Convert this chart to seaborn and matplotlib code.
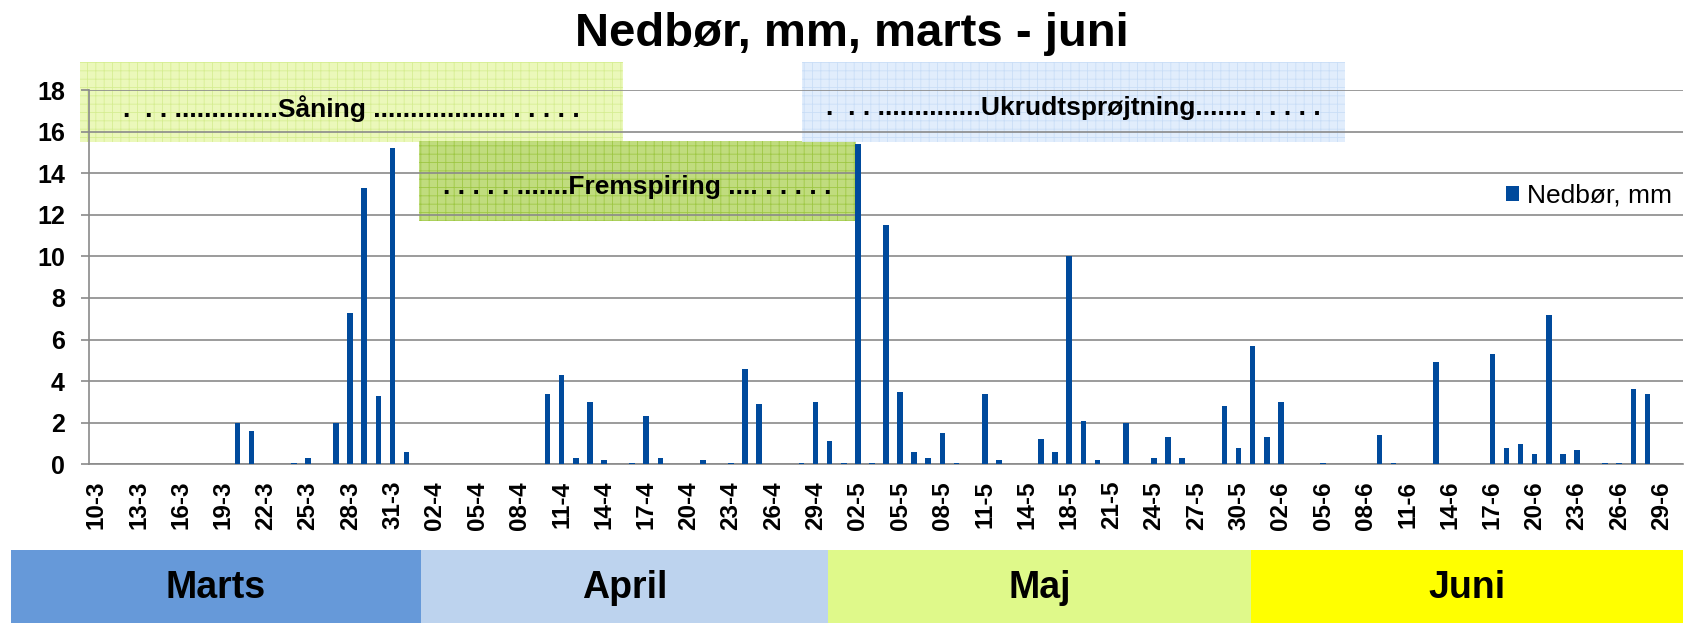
import matplotlib
matplotlib.use("Agg")
import matplotlib.pyplot as plt
import seaborn as sns
import pandas as pd
from matplotlib.patches import Rectangle
from matplotlib.ticker import FixedLocator

sns.set_theme(style="white")
plt.rcParams["font.family"] = ["Liberation Sans", "DejaVu Sans"]
plt.rcParams["hatch.linewidth"] = 0.6
plt.rcParams["text.color"] = "black"

# === Data: daily precipitation (mm), one value per day 10-3 .. 30-6 ===
nedbor = [
    0, 0, 0, 0, 0, 0, 0, 0, 0, 0,              # 10-3 .. 19-3
    2.0, 1.6, 0, 0, 0.05, 0.3, 0, 2.0, 7.3, 13.3,
    3.3, 15.2, 0.6, 0, 0, 0, 0, 0, 0, 0,
    0, 0, 3.4, 4.3, 0.3, 3.0, 0.2, 0, 0.05, 2.3,
    0.3, 0, 0, 0.2, 0, 0.05, 4.6, 2.9, 0, 0,
    0.05, 3.0, 1.1, 0.05, 15.4, 0.05, 11.5, 3.5, 0.6, 0.3,
    1.5, 0.05, 0, 3.4, 0.2, 0, 0, 1.2, 0.6, 10.0,
    2.1, 0.2, 0, 2.0, 0, 0.3, 1.3, 0.3, 0, 0,
    2.8, 0.8, 5.7, 1.3, 3.0, 0, 0, 0.05, 0, 0,
    0, 1.4, 0.05, 0, 0, 4.9, 0, 0, 0, 5.3,
    0.8, 1.0, 0.5, 7.2, 0.5, 0.7, 0, 0.05, 0.05, 3.6,
    3.4, 0, 0,
]
tick_labels = [
    "10-3", "13-3", "16-3", "19-3", "22-3", "25-3", "28-3", "31-3",
    "02-4", "05-4", "08-4", "11-4", "14-4", "17-4", "20-4", "23-4", "26-4", "29-4",
    "02-5", "05-5", "08-5", "11-5", "14-5", "18-5", "21-5", "24-5", "27-5", "30-5",
    "02-6", "05-6", "08-6", "11-6", "14-6", "17-6", "20-6", "23-6", "26-6", "29-6",
]
months = ["Marts", "April", "Maj", "Juni"]
month_colors = ["#6699d9", "#bdd3ee", "#dff98a", "#ffff00"]

periods = [".  . . ..............Såning .................. . . . . .",
           ". . . . . .......Fremspiring .... . . . . .",
           ".  . . ..............Ukrudtsprøjtning....... . . . . ."]

df = pd.DataFrame({"dag": range(len(nedbor)), "Nedbør, mm": nedbor})

# === Figure ===
W, H = 1691, 625
fig = plt.figure(figsize=(W / 100, H / 100), dpi=100)
ax = fig.add_axes([89.3 / W, 1 - 464.3 / H, (1682.7 - 89.3) / W, (464.3 - 90) / H])

sns.barplot(data=df, x="dag", y="Nedbør, mm", color="#004a9c", saturation=1,
            width=0.4, linewidth=0, ax=ax, label="Nedbør, mm", zorder=3)

ax.set_xlim(-0.5, len(nedbor) - 0.5)
ax.set_ylim(0, 18)
ax.set_yticks(range(0, 19, 2))
ax.set_yticklabels([str(v) for v in range(0, 19, 2)], fontsize=18, fontweight="bold")
ax.set_xticks(range(0, len(nedbor), 3))
ax.set_xticklabels(tick_labels, rotation=90, fontsize=17.5, fontweight="bold")
ax.xaxis.set_minor_locator(FixedLocator([i - 0.5 for i in range(len(nedbor) + 1)]))
ax.tick_params(axis="x", which="major", length=0, pad=12, labelcolor="black")
ax.tick_params(axis="x", which="minor", length=6, width=1.2, color="#8a8a8a", direction="out")
ax.tick_params(axis="y", length=5.5, width=1.2, color="#8a8a8a", direction="out", pad=12,
               left=True, labelcolor="black")
ax.set_xlabel("")
ax.set_ylabel("")

ax.set_axisbelow(True)
ax.yaxis.grid(True, color="#8a8a8a", linewidth=1.2, zorder=1)
ax.xaxis.grid(False)
for s in ["top", "right"]:
    ax.spines[s].set_visible(False)
for s in ["left", "bottom"]:
    ax.spines[s].set_color("#8a8a8a")
    ax.spines[s].set_linewidth(1.2)


# === Period boxes (data coords, may stick out of the axes) ===
def period_box(x0, x1, y0, y1, face, hatch_col, text):
    r = Rectangle((x0, y0), x1 - x0, y1 - y0, facecolor=face, edgecolor=hatch_col,
                  hatch="++", linewidth=0, alpha=0.85, clip_on=False, zorder=0.4)
    ax.add_patch(r)
    ax.text((x0 + x1) / 2, (y0 + y1) / 2 - 0.3, text, ha="center", va="center",
            fontsize=19, fontweight="bold", zorder=4, clip_on=False)


period_box(-1.16, 37.37, 15.5, 19.35, "#e8f7ae", "#d3ec8c", periods[0])
period_box(22.85, 53.87, 11.7, 15.55, "#b5d668", "#98c43a", periods[1])
period_box(50.05, 88.58, 15.5, 19.35, "#dceafc", "#c5dbf6", periods[2])

ax.legend(loc="center right", bbox_to_anchor=(1.0, 0.717), frameon=False,
          fontsize=19, handlelength=0.5, handleheight=0.5, handletextpad=0.3,
          borderaxespad=0)

fig.text(852 / W, 1 - 46 / H, "Nedbør, mm, marts - juni", ha="center", va="baseline",
         fontsize=34, fontweight="bold")

# === Month band below the chart ===
bounds = [10.8, 420.6, 828.3, 1251, 1682.5]
bax = fig.add_axes([0, 1 - 623 / H, 1, (623 - 550) / H])
bax.set_xlim(0, W)
bax.set_ylim(0, 1)
bax.axis("off")
for i, (m, c) in enumerate(zip(months, month_colors)):
    bax.barh(0.5, bounds[i + 1] - bounds[i], left=bounds[i], height=1, color=c, linewidth=0)
    bax.text((bounds[i] + bounds[i + 1]) / 2, 0.48, m, ha="center", va="center",
             fontsize=27, fontweight="bold")

fig.savefig("out.png", dpi=100)
